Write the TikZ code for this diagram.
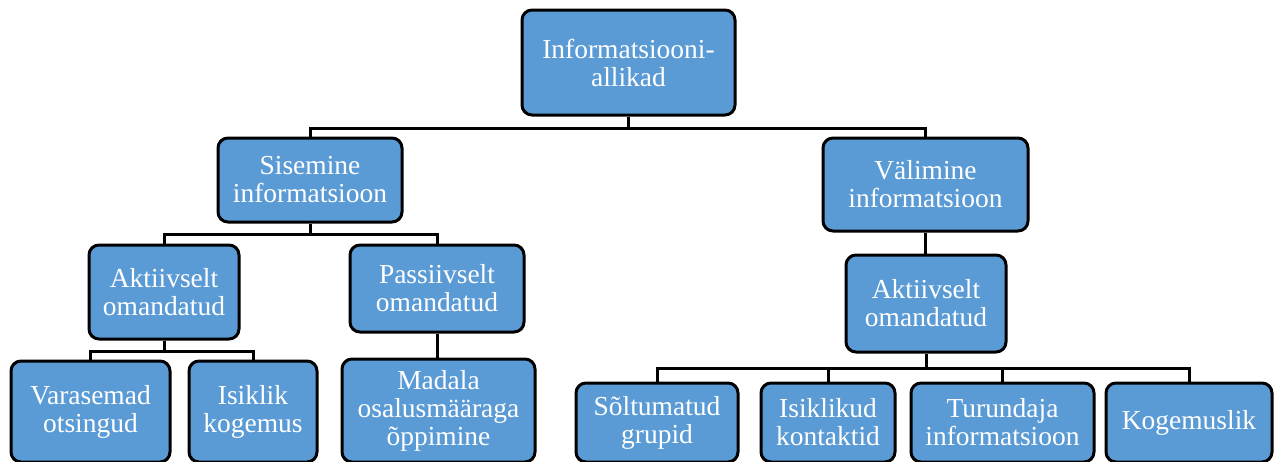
\documentclass[tikz,border=0pt]{standalone}
\usepackage{fontspec}
\setmainfont{Liberation Serif}
\definecolor{boxblue}{HTML}{5B9BD5}
\begin{document}
\begin{tikzpicture}[x=0.75pt,y=-0.75pt,
  box/.style={draw=black, fill=boxblue, line width=2.25pt, rounded corners=7.5pt,
    text=white, align=center, inner sep=0pt,
    font=\fontsize{20.6}{21}\selectfont},
  conn/.style={draw=black, line width=2.25pt}]
\useasboundingbox (0,0) rectangle (1277,461);
\clip (0,0) rectangle (1277,461);
\node[box, minimum width=159.75pt, minimum height=78.75pt] (root) at (628.5,62.5) {Informatsiooni-\\allikad};
\node[box, minimum width=138pt, minimum height=63pt] (sis) at (310,180) {Sisemine\\informatsioon};
\node[box, minimum width=153.75pt, minimum height=69.75pt] (val) at (925.5,184.5) {Välimine\\informatsioon};
\node[box, minimum width=112.5pt, minimum height=70.5pt] (akt1) at (164,292) {Aktiivselt\\omandatud};
\node[box, minimum width=130.5pt, minimum height=65.25pt] (pas) at (437,288.5) {Passiivselt\\omandatud};
\node[box, minimum width=119.25pt, minimum height=75.75pt] (var) at (90.5,411.5) {Varasemad\\otsingud};
\node[box, minimum width=96pt, minimum height=75.75pt] (isk) at (253,411.5) {Isiklik\\kogemus};
\node[box, minimum width=144.75pt, minimum height=77.25pt] (mad) at (438.5,410.5) {Madala\\osalusmääraga\\õppimine};
\node[box, minimum width=120pt, minimum height=72.75pt] (akt2) at (926,303.5) {Aktiivselt\\omandatud};
\node[box, minimum width=121.5pt, minimum height=59.25pt] (sol) at (657,422.5) {Sõltumatud\\grupid};
\node[box, minimum width=100.5pt, minimum height=59.25pt] (iskk) at (828,422.5) {Isiklikud\\kontaktid};
\node[box, minimum width=137.25pt, minimum height=59.25pt] (tur) at (1002.5,422.5) {Turundaja\\informatsioon};
\node[box, minimum width=124.5pt, minimum height=59.25pt] (kog) at (1189,422.5) {Kogemuslik};
\draw[conn] (root.south) -- ++(0,12) -| (sis.north);
\draw[conn] (root.south) -- ++(0,12) -| (val.north);
\draw[conn] (sis.south) -- ++(0,11) -| (akt1.north);
\draw[conn] (sis.south) -- ++(0,11) -| (pas.north);
\draw[conn] (akt1.south) -- ++(0,11) -| (var.north);
\draw[conn] (akt1.south) -- ++(0,11) -| (isk.north);
\draw[conn] (pas.south) -- (pas.south |- mad.north);
\draw[conn] (val.south) -- (val.south |- akt2.north);
\draw[conn] (akt2.south) -- ++(0,15) -| (sol.north);
\draw[conn] (akt2.south) -- ++(0,15) -| (iskk.north);
\draw[conn] (akt2.south) -- ++(0,15) -| (tur.north);
\draw[conn] (akt2.south) -- ++(0,15) -| (kog.north);
\end{tikzpicture}
\end{document}
